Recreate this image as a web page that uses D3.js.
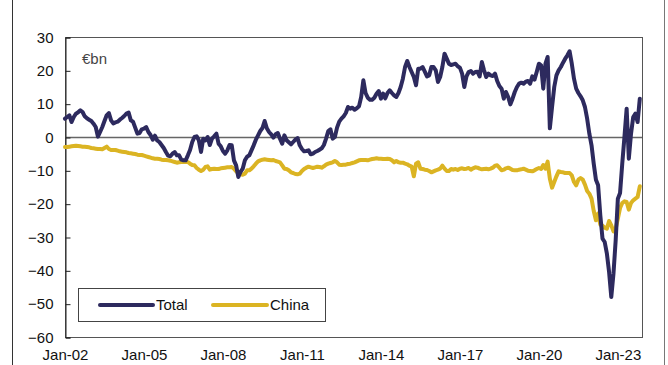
<!DOCTYPE html>
<html>
<head>
<meta charset="utf-8">
<script src="https://cdn.jsdelivr.net/npm/d3@7"></script>
<style>
  html, body { margin: 0; padding: 0; background: #fff; }
  svg { display: block; font-family: "Liberation Sans", Arial, sans-serif; }
</style>
</head>
<body>
<svg id="chart" width="668" height="365"></svg>
<script>
// ---- data (monthly, starting Jan 2002) ----
const startYear = 2002;
const xTickLabels = ["Jan-02", "Jan-05", "Jan-08", "Jan-11", "Jan-14", "Jan-17", "Jan-20", "Jan-23"];
const yTicks = [30, 20, 10, 0, -10, -20, -30, -40, -50, -60];
const seriesNames = ["Total", "China"];
const unitLabel = "€bn";

const total = [
  5.5, 6, 6.5, 4.5, 6, 7, 7.4, 8, 7.5, 6.2, 5.6, 5.2,            // 2002
  4.8, 4, 3, 0.1, 1.5, 3, 4.8, 6.5, 7.2, 5, 4.1, 4.4,            // 2003
  4.6, 5.2, 5.7, 6.3, 7, 7.3, 5, 4.6, 2.8, 1, 1.2, 2.3,          // 2004
  2.5, 3, 1.5, 0.6, -0.8, 0.4, -1, -1.5, -2.4, -3.3, -4.5, -5.6, // 2005
  -5.8, -5, -4.5, -5.5, -5.5, -6.8, -7, -7, -5.5, -3.9, -1.5, 0, // 2006
  0.2, -1, -4.5, -0.5, -1, 0, -2.4, -0.5, 0.2, 1, -2, -2.8,      // 2007
  -4.2, -5, -4, -2.4, -2.5, -7, -8.5, -12, -10.5, -9.5, -7, -5.9, // 2008
  -5.5, -4, -2.5, -0.8, 0.5, 1.8, 2.7, 4.8, 2.6, 1.5, 0.8, -0.2, // 2009
  0.8, 1.2, -0.5, -2, 0.5, -1, -1.6, -2.2, -1.5, -0.8, -0.3, -2.5, // 2010
  -3.6, -4.3, -4.2, -4, -5.2, -5, -4.5, -4.2, -3.8, -3.4, -2.4, -0.5, // 2011
  1.8, 2.3, -0.5, 0, 2.8, 4.6, 5.5, 6.2, 7.2, 9, 8.5, 8.8,       // 2012
  8.2, 8.6, 9.2, 12, 17, 13.2, 11.8, 11.2, 11.2, 11.8, 13, 13.8, // 2013
  11.5, 13, 11.6, 13.2, 14, 13.2, 12.5, 12, 13.2, 15, 17.5, 21,  // 2014
  22.8, 21, 19.5, 18, 15.5, 20.5, 20.5, 21, 19.6, 18.2, 18.5, 21, // 2015
  21, 20, 16.5, 18, 21, 25, 23.5, 22, 21.6, 21.8, 22, 21.2,      // 2016
  20.8, 19, 15, 18.2, 19.5, 19.8, 19, 19.5, 19.6, 18.2, 22.5, 20, // 2017
  18, 19, 18.5, 18.3, 19, 16.8, 15.3, 14.5, 11.5, 13.5, 12, 9.8, // 2018
  11.5, 13.5, 15, 16, 16.3, 16, 16.6, 16.8, 16, 18.2, 17.2, 19.5, // 2019
  22, 21.5, 14.5, 22, 24, 2.6, 9, 15, 18.5, 20, 21, 22.3,        // 2020
  23.5, 24.5, 25.7, 22, 17.5, 14.5, 13.2, 12.2, 11, 9, 5.5, 1,   // 2021
  -2.5, -8, -12.8, -14.5, -23.5, -30.5, -31.5, -35, -40.5, -48, -41, -31, // 2022
  -18.5, -16.8, -8, 0, 8.5, -6.5, 1, 6, 7, 4.5, 11.5             // 2023
];

const china = [
  -3, -3, -2.9, -2.8, -2.7, -2.6, -2.7, -2.8, -2.9, -2.9, -3, -3.1,         // 2002
  -3.3, -3.4, -3.5, -3.6, -3.6, -3.7, -3.3, -2.9, -3.6, -3.9, -3.9, -3.9,   // 2003
  -4.1, -4.3, -4.4, -4.5, -4.6, -4.8, -4.9, -5, -5.1, -5.3, -5.4, -5.4,     // 2004
  -5.6, -5.8, -6, -6.2, -6.4, -6.5, -6.5, -6.6, -6.8, -6.9, -6.9, -7,       // 2005
  -7.1, -7.3, -7.5, -7.7, -7.6, -7.5, -7.4, -7.5, -7.5, -8, -8.4, -8.5,     // 2006
  -9.3, -9.8, -10.2, -9.8, -9, -8.8, -9.8, -9.6, -9.5, -9.6, -9.6, -9.4,    // 2007
  -9.3, -9.2, -9.1, -9.1, -9, -9.5, -10.3, -10.9, -11.2, -11.3, -11, -10,   // 2008
  -10, -9.5, -8.8, -8, -7.3, -7, -6.8, -6.7, -6.8, -6.9, -7, -6.9,          // 2009
  -7.2, -7.4, -7.6, -8.5, -9.5, -9.6, -10, -10.6, -10.8, -11.1, -11.2, -11, // 2010
  -10.2, -9.6, -9.2, -8.9, -9.1, -9.3, -9.1, -8.9, -9, -9.2, -8.8, -8.3,    // 2011
  -8, -7.8, -7.6, -7.2, -7.6, -8.3, -8.4, -8.3, -8.3, -8.1, -8, -7.8,       // 2012
  -7.6, -7.3, -7, -6.9, -6.9, -6.9, -7, -6.8, -6.6, -6.5, -6.4, -6.5,       // 2013
  -6.5, -6.6, -6.6, -6.5, -6.6, -7, -7.6, -7.2, -7.6, -7.7, -7.7, -8,       // 2014
  -8.2, -8.6, -8.9, -11.8, -8, -7.6, -9.5, -9.6, -9.8, -9.9, -10.2, -10.6,  // 2015
  -10.3, -10, -9.8, -9.5, -8.6, -9.5, -10.2, -10.2, -9.6, -9.8, -9.6, -9.9, // 2016
  -9.5, -9.4, -9.6, -9.5, -9.3, -9.8, -9.4, -9.1, -9.2, -9.5, -9.7, -9.6,   // 2017
  -9.5, -9.7, -9.5, -9.2, -8.6, -8.5, -9.2, -10, -9.8, -9.4, -9.2, -9.5,    // 2018
  -9.9, -10, -10, -9.8, -9.7, -9.5, -9.8, -10.1, -10.2, -10.3, -10, -9.6,   // 2019
  -9.3, -9.6, -8.4, -9.5, -7.4, -12.5, -15.2, -13.5, -11.8, -10.3, -10.5, -10.6, // 2020
  -10.8, -10.8, -10.8, -11.5, -13.5, -14.5, -12.8, -12.3, -12.8, -14.3, -16.2, -17, // 2021
  -18.5, -22.2, -25, -23, -26.3, -26.6, -27.2, -27.5, -25.2, -26.5, -28.3, -27.5, // 2022
  -24.5, -21.3, -19.8, -19.3, -19.5, -21.8, -19.8, -19, -18.5, -18, -14.8   // 2023
];

// ---- layout ----
const W = 668, H = 365;
const plot = { left: 65, right: 642, top: 37, bottom: 337 };
const colors = { Total: "#2d2a5e", China: "#dbb423" };
const nMonths = 263; // Jan-02 .. Dec-23 span

const svg = d3.select("#chart");

const x = d3.scaleLinear().domain([0, nMonths]).range([plot.left, plot.right]);
const y = d3.scaleLinear().domain([-60, 30]).range([plot.bottom, plot.top]);

// outer frame lines
svg.append("line").attr("x1", 12.5).attr("x2", 12.5).attr("y1", 0).attr("y2", H)
  .attr("stroke", "#333").attr("stroke-width", 1);
svg.append("line").attr("x1", 664.5).attr("x2", 664.5).attr("y1", 0).attr("y2", H)
  .attr("stroke", "#777").attr("stroke-width", 1);

// plot box
svg.append("rect")
  .attr("x", plot.left + 0.5).attr("y", plot.top + 0.5)
  .attr("width", plot.right - plot.left).attr("height", plot.bottom - plot.top)
  .attr("fill", "none").attr("stroke", "#555").attr("stroke-width", 1);

// zero line
svg.append("line")
  .attr("x1", plot.left).attr("x2", plot.right)
  .attr("y1", Math.round(y(0)) + 0.5).attr("y2", Math.round(y(0)) + 0.5)
  .attr("stroke", "#666").attr("stroke-width", 1.3);

// y axis (ticks pointing inward)
const yAxis = d3.axisLeft(y).tickValues(yTicks).tickSize(-5).tickPadding(12)
  .tickFormat(d3.format("d"));
const gy = svg.append("g").attr("transform", `translate(${plot.left + 0.5},0.5)`).call(yAxis);
gy.select(".domain").attr("stroke", "#222");
gy.selectAll(".tick line").attr("stroke", "#222");
gy.selectAll(".tick text").attr("font-size", 15).attr("fill", "#111")
  .attr("font-family", "Liberation Sans, Arial, sans-serif");

// x axis labels
const tickIdx = xTickLabels.map((d, i) => i * 36);
const xAxis = d3.axisBottom(x).tickValues(tickIdx).tickSize(0).tickPadding(12)
  .tickFormat((d, i) => xTickLabels[i]);
const gx = svg.append("g").attr("transform", `translate(0,${plot.bottom + 0.5})`).call(xAxis);
gx.select(".domain").remove();
gx.selectAll(".tick text").attr("font-size", 15).attr("fill", "#111")
  .attr("font-family", "Liberation Sans, Arial, sans-serif");

// unit label
svg.append("text").attr("x", 82).attr("y", 64).attr("font-size", 15)
  .attr("fill", "#444").text(unitLabel);

// legend box
const lg = svg.append("g");
lg.append("rect").attr("x", 78.5).attr("y", 288.5).attr("width", 247).attr("height", 33)
  .attr("fill", "#fff").attr("stroke", "#444").attr("stroke-width", 1);
const legendItems = [
  { name: seriesNames[0], x0: 100, x1: 153, tx: 156 },
  { name: seriesNames[1], x0: 213, x1: 267, tx: 270 }
];
legendItems.forEach(it => {
  lg.append("line").attr("x1", it.x0).attr("x2", it.x1).attr("y1", 305).attr("y2", 305)
    .attr("stroke", colors[it.name]).attr("stroke-width", 4).attr("stroke-linecap", "round");
  lg.append("text").attr("x", it.tx).attr("y", 310).attr("font-size", 15)
    .attr("fill", "#111").text(it.name);
});

// lines
const line = d3.line().x((d, i) => x(i)).y(d => y(d)).curve(d3.curveLinear);
[["China", china], ["Total", total]].forEach(([name, vals]) => {
  svg.append("path").datum(vals)
    .attr("d", line)
    .attr("fill", "none")
    .attr("stroke", colors[name])
    .attr("stroke-width", 4)
    .attr("stroke-linejoin", "round")
    .attr("stroke-linecap", "round");
});
</script>
</body>
</html>
